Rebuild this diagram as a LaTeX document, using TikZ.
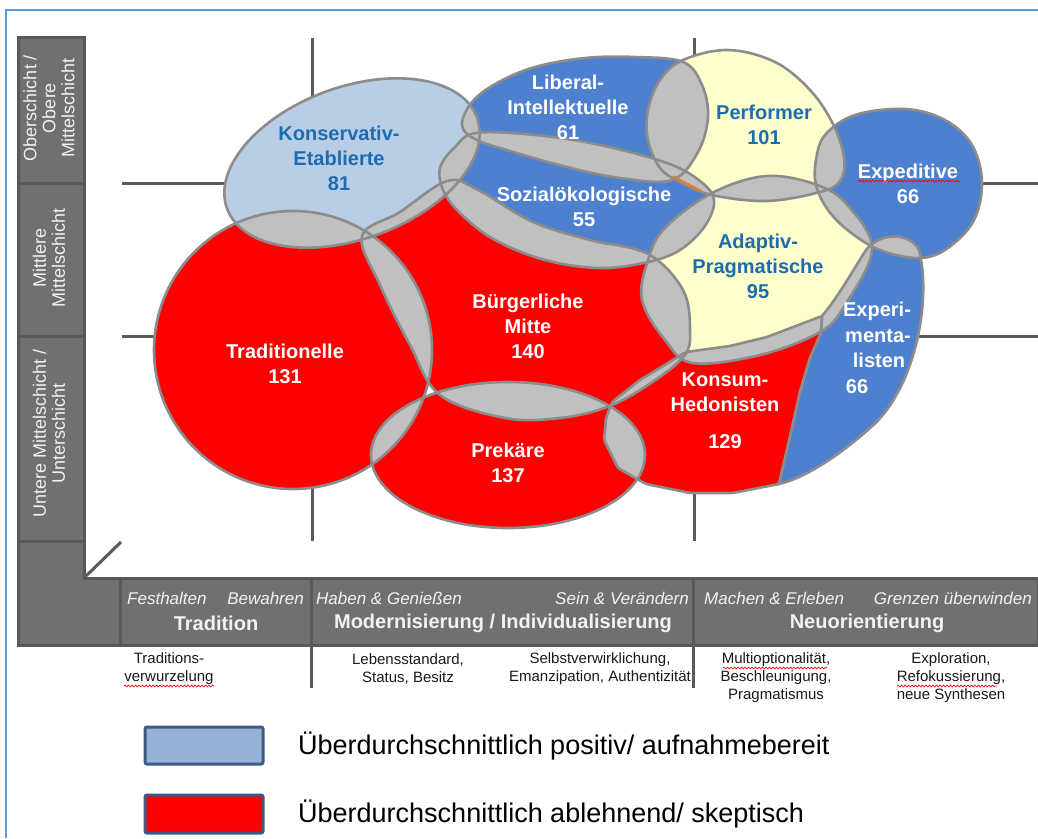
\documentclass[tikz,border=0pt]{standalone}
\usepackage{fontspec}
\setmainfont{Liberation Sans}
\usetikzlibrary{decorations.pathmorphing}

\definecolor{framebl}{HTML}{5B9BD5}
\definecolor{barfill}{HTML}{707070}
\definecolor{barline}{HTML}{595959}
\definecolor{gridc}{HTML}{5A5A5A}
\definecolor{lightbl}{HTML}{B9CDE5}
\definecolor{midbl}{HTML}{4D80CF}
\definecolor{paleyel}{HTML}{FFFFCC}
\definecolor{segred}{HTML}{FF0000}
\definecolor{ovl}{HTML}{C0C0C0}
\definecolor{edgec}{HTML}{8C8C8C}
\definecolor{labbl}{HTML}{1C6CB4}
\definecolor{legbl}{HTML}{95B3D7}
\definecolor{legedge}{HTML}{3C5A82}
\definecolor{barwhite}{HTML}{F2F2F2}
\definecolor{slivor}{HTML}{E07B39}

% milieu outlines (pixel-like units, y pointing down)
\newcommand\blbK{[rotate around={20:(352,163)}] (352,163) ellipse [x radius=133, y radius=76]}
\newcommand\blbT{(293,350) circle [radius=139]}
\newcommand\blbB{plot[smooth cycle, tension=0.6] coordinates {(362,236) (400,212) (447,181) (478,190) (533,222) (590,240) (648,254) (683,290) (690,330) (684,356) (648,385) (607,407) (560,418) (505,418) (440,395) (410,345) (380,285)}}
\newcommand\blbP{(508,455) ellipse [x radius=137, y radius=73]}
\newcommand\blbS{plot[smooth cycle, tension=0.6] coordinates {(440,168) (455,147) (476,133) (535,135) (600,145) (667,163) (700,181) (714,200) (705,226) (680,250) (648,262) (600,268) (545,260) (495,240) (462,215) (444,192)}}
\newcommand\blbL{plot[smooth cycle, tension=0.6] coordinates {(462,125) (472,102) (497,83) (535,67) (585,58) (635,57) (683,62) (702,85) (708,117) (698,152) (672,180) (620,178) (567,167) (510,151) (475,139)}}
\newcommand\blbPf{plot[smooth cycle, tension=0.6] coordinates {(683,60) (728,50) (775,62) (810,90) (833,124) (844,158) (840,181) (820,192) (767,201) (712,195) (680,182) (660,168) (648,140) (648,110) (660,80)}}
\newcommand\blbE{plot[smooth cycle, tension=0.6] coordinates {(905,109) (945,120) (972,145) (982,183) (973,222) (945,250) (917,258) (880,250) (850,232) (828,210) (816,185) (816,160) (825,135) (855,115)}}
\newcommand\blbA{plot[smooth cycle, tension=0.6] coordinates {(712,193) (767,176) (820,186) (850,208) (872,250) (845,305) (820,332) (760,355) (693,363) (665,340) (642,300) (648,260) (665,228)}}
\newcommand\blbKo{[rounded corners=2] (612,402) -- (640,380) -- (686,352) -- (730,346) -- (767,337) -- (822,316) -- (821,333) -- (810,358) -- (800,392) -- (790,437) -- (779,484) -- (733,493) -- (690,493) -- (646,484) -- (618,468) -- (604,440) -- (606,418) -- cycle}
\newcommand\blbX{(822,316) .. controls (836,300) and (852,272) .. (866,250) .. controls (880,232) and (910,232) .. (919,250) .. controls (932,300) and (915,390) .. (870,428) .. controls (840,455) and (805,478) .. (779,484) -- (790,437) -- (800,392) -- (810,358) -- (821,333) -- cycle}

% gray lens where two milieus overlap
\newcommand\lens[2]{\begin{scope}\clip #1;\fill[ovl] #2;\end{scope}}

\begin{document}
\begin{tikzpicture}[x=1pt,y=-1pt,
  gridline/.style={draw=gridc, line width=3},
  outline/.style={draw=edgec, line width=2.6},
  blobtxt/.style={font=\fontsize{20}{25}\selectfont\bfseries, align=center, inner sep=0pt},
  onlight/.style={blobtxt, text=labbl},
  ondark/.style={blobtxt, text=white},
  axistxt/.style={font=\fontsize{18}{19}\selectfont, text=barwhite, align=center, inner sep=0pt, rotate=90},
  valtxt/.style={font=\fontsize{17}{20}\selectfont\itshape, text=barwhite, inner sep=0pt},
  bandtxt/.style={font=\fontsize{20}{24}\selectfont\bfseries, text=barwhite, inner sep=0pt},
  notetxt/.style={font=\fontsize{15}{18}\selectfont, text=black!90, align=center, inner sep=0pt},
  squiggle/.style={draw=red, line width=0.7, decorate, decoration={snake, amplitude=0.9pt, segment length=3.5pt}},
  legbox/.style={draw=legedge, line width=3, rounded corners=2},
  legtxt/.style={font=\fontsize{27}{30}\selectfont, anchor=west, inner sep=0pt}]

\useasboundingbox (0,0) rectangle (1038,838);
\fill[white] (0,0) rectangle (1038,838);

% page frame
\draw[framebl, line width=2] (6,838) -- (6,10) -- (1038,10);

% quadrant grid behind the milieus
\draw[gridline] (312,38) -- (312,110);
\draw[gridline] (694,38) -- (694,80);
\draw[gridline] (122,183) -- (240,183);
\draw[gridline] (950,183) -- (1038,183);
\draw[gridline] (122,336) -- (170,336);
\draw[gridline] (900,336) -- (1038,336);
\draw[gridline] (312,470) -- (312,541);
\draw[gridline] (694,480) -- (694,541);
\draw[gridline] (86,576) -- (121,542);

% milieu areas
\fill[lightbl] \blbK;
\fill[segred] \blbT;
\fill[segred] \blbB;
\fill[segred] \blbP;
\fill[midbl] \blbS;
\fill[midbl] \blbL;
\fill[paleyel] \blbPf;
\fill[midbl] \blbE;
\fill[paleyel] \blbA;
\fill[segred] \blbKo;
\fill[midbl] \blbX;

% overlaps
\lens{\blbK}{\blbT}
\lens{\blbK}{\blbB}
\lens{\blbK}{\blbS}
\lens{\blbK}{\blbL}
\lens{\blbT}{\blbB}
\lens{\blbT}{\blbP}
\lens{\blbB}{\blbS}
\lens{\blbB}{\blbA}
\lens{\blbB}{\blbP}
\lens{\blbB}{\blbKo}
\lens{\blbP}{\blbKo}
\lens{\blbS}{\blbL}
\lens{\blbS}{\blbA}
\lens{\blbS}{\blbPf}
\lens{\blbL}{\blbPf}
\lens{\blbPf}{\blbA}
\lens{\blbPf}{\blbE}
\lens{\blbE}{\blbA}
\lens{\blbE}{\blbX}
\lens{\blbA}{\blbX}
\lens{\blbA}{\blbKo}

% outlines
\draw[outline] \blbK;
\draw[outline] \blbT;
\draw[outline] \blbB;
\draw[outline] \blbP;
\draw[outline] \blbS;
\draw[outline] \blbL;
\draw[outline] \blbPf;
\draw[outline] \blbE;
\draw[outline] \blbA;
\draw[outline] \blbKo;
\draw[outline] \blbX;
\draw[slivor, line width=2.5, line cap=round] (674,177) -- (701,191);

% milieu labels
\node[onlight] (tK) at (339,158) {Konservativ-\\Etablierte\\81};
\node[ondark] (tL) at (568,107) {Liberal-\\Intellektuelle\\61};
\node[ondark] (tS) at (584,207) {Sozialökologische\\55};
\node[onlight] (tPf) at (764,125) {Performer\\101};
\node[ondark] (tE) at (908,184) {Expeditive\\66};
\node[onlight] (tA) at (758,266) {Adaptiv-\\Pragmatische\\95};
\node[ondark] (tT) at (285,364) {Traditionelle\\131};
\node[ondark] (tB) at (528,326) {Bürgerliche\\Mitte\\140};
\node[ondark] (tP) at (508,463) {Prekäre\\137};
\node[ondark] (tKo) at (725,411) {Konsum-\\Hedonisten\\[12pt]129};
\node[ondark] (tX1) at (877,311) {Experi-};
\node[ondark] (tX2) at (878,336) {menta-};
\node[ondark] (tX3) at (879,360) {listen};
\node[ondark] (tX4) at (857,387) {66};
\draw[squiggle] (858,181) -- (960,181);

% axis frame (social class and values)
\filldraw[fill=barfill, draw=barline, line width=3] (18,37) -- (84,37) -- (84,578) -- (1038,578) -- (1038,645) -- (18,645) -- cycle;
\draw[barline, line width=3] (18,183.5) -- (84,183.5);
\draw[barline, line width=3] (18,336) -- (84,336);
\draw[barline, line width=3] (18,541) -- (84,541);
\draw[barline, line width=3] (120,578) -- (120,645);
\draw[barline, line width=3] (311,578) -- (311,645);
\draw[barline, line width=3] (693,578) -- (693,645);

\node[axistxt] (cl1) at (49,108) {Oberschicht /\\Obere\\Mittelschicht};
\node[axistxt] (cl2) at (49,258) {Mittlere\\Mittelschicht};
\node[axistxt] (cl3) at (49,433) {Untere Mittelschicht /\\Unterschicht};

\node[valtxt, anchor=west] (v1) at (127,598) {Festhalten};
\node[valtxt, anchor=east] (v2) at (304,598) {Bewahren};
\node[valtxt, anchor=west] (v3) at (316,598) {Haben \& Genießen};
\node[valtxt, anchor=east] (v4) at (689,598) {Sein \& Verändern};
\node[valtxt, anchor=west] (v5) at (704,598) {Machen \& Erleben};
\node[valtxt, anchor=east] (v6) at (1032,598) {Grenzen überwinden};
\node[bandtxt] (b1) at (216,623) {Tradition};
\node[bandtxt] (b2) at (503,623) {Modernisierung / Individualisierung};
\node[bandtxt] (b3) at (867,623) {Neuorientierung};

% notes below the value axis
\draw[barline, line width=3] (311,645) -- (311,688);
\draw[barline, line width=3] (693,645) -- (693,688);
\node[notetxt] (n1) at (169,669) {Traditions-\\verwurzelung};
\node[notetxt] (n2) at (408,669) {Lebensstandard,\\Status, Besitz};
\node[notetxt] (n3) at (600,669) {Selbstverwirklichung,\\Emanzipation, Authentizität};
\node[notetxt] (n4) at (776,678) {Multioptionalität,\\Beschleunigung,\\Pragmatismus};
\node[notetxt] (n5) at (951,678) {Exploration,\\Refokussierung,\\neue Synthesen};
\draw[squiggle] (124,686) -- (214,686);
\draw[squiggle] (723,668) -- (827,668);
\draw[squiggle] (897,686) -- (997,686);

% legend
\draw[legbox, fill=legbl] (145,727) rectangle (263,764);
\draw[legbox, fill=segred] (145,795) rectangle (263,833);
\node[legtxt] (l1) at (298,746) {Überdurchschnittlich positiv/ aufnahmebereit};
\node[legtxt] (l2) at (298,814) {Überdurchschnittlich ablehnend/ skeptisch};

\end{tikzpicture}
\end{document}
